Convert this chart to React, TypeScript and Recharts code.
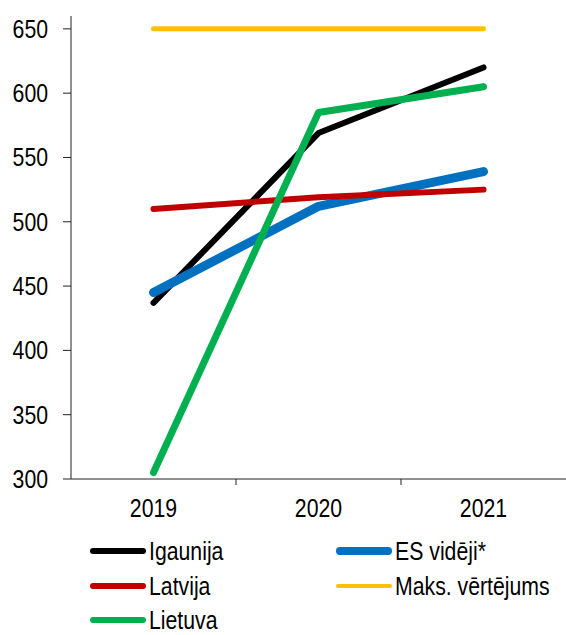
import React from 'react';
import { LineChart, Line, XAxis, YAxis } from 'recharts';

const years = ['2019', '2020', '2021'];
const igaunija = [437, 569, 620];
const esVideji = [445, 512, 539];
const latvija = [510, 519, 525];
const maks = [650, 650, 650];
const lietuva = [305, 585, 605];
const yTicks = [300, 350, 400, 450, 500, 550, 600, 650];

const FONT = '"Liberation Sans", Arial, sans-serif';
const SQUEEZE = 0.85;

const series = [
  { key: 'igaunija', name: 'Igaunija', color: '#000000', width: 6, legendWidth: 6 },
  { key: 'es', name: 'ES vidēji*', color: '#0070C0', width: 9, legendWidth: 8 },
  { key: 'latvija', name: 'Latvija', color: '#C00000', width: 6, legendWidth: 6 },
  { key: 'maks', name: 'Maks. vērtējums', color: '#FFC000', width: 5, legendWidth: 4 },
  { key: 'lietuva', name: 'Lietuva', color: '#00B050', width: 7, legendWidth: 6 },
];

const data = years.map((y, i) => ({
  x: i + 0.5,
  year: y,
  igaunija: igaunija[i],
  es: esVideji[i],
  latvija: latvija[i],
  maks: maks[i],
  lietuva: lietuva[i],
}));

const xTicks: number[] = [];
for (let i = 0; i < years.length; i++) {
  xTicks.push(i + 0.5);
  if (i < years.length - 1) xTicks.push(i + 1);
}

const X_TICK_SIZE = 6;
const X_TICK_MARGIN = 14;

const XTick = (props: any) => {
  const { x, y, payload } = props;
  const v = payload.value as number;
  if (Number.isInteger(v)) {
    const top = y - X_TICK_SIZE - X_TICK_MARGIN;
    return <line x1={x} x2={x} y1={top} y2={top + X_TICK_SIZE} stroke="#222" strokeWidth={1} />;
  }
  return (
    <g transform={`translate(${x},${y}) scale(${SQUEEZE},1)`}>
      <text x={0} y={0} dy="0.71em" textAnchor="middle" fill="#000" fontSize={25} fontFamily={FONT}>
        {years[Math.floor(v)]}
      </text>
    </g>
  );
};

const YTick = (props: any) => {
  const { x, y, payload } = props;
  return (
    <g transform={`translate(${x},${y}) scale(${SQUEEZE},1)`}>
      <text x={0} y={0} dy="0.355em" textAnchor="end" fill="#000" fontSize={25} fontFamily={FONT}>
        {payload.value}
      </text>
    </g>
  );
};

export default function App() {
  return (
    <div style={{ position: 'absolute', left: 0, top: 0, width: 566, height: 635, background: '#fff' }}>
      <LineChart width={566} height={535} data={data} margin={{ top: 16, right: 0, bottom: 0, left: 0 }}>
        <XAxis
          dataKey="x"
          type="number"
          domain={[0, years.length]}
          ticks={xTicks}
          interval={0}
          tick={<XTick />}
          tickLine={false}
          tickSize={X_TICK_SIZE}
          tickMargin={X_TICK_MARGIN}
          height={56}
          axisLine={{ stroke: '#222', strokeWidth: 1 }}
        />
        <YAxis
          type="number"
          domain={[300, 660]}
          ticks={yTicks}
          interval={0}
          width={71}
          tickSize={8}
          tickMargin={15}
          tick={<YTick />}
          tickLine={{ stroke: '#222', strokeWidth: 1 }}
          axisLine={{ stroke: '#222', strokeWidth: 1 }}
          allowDataOverflow
        />
        {series.map((s) => (
          <Line
            key={s.key}
            dataKey={s.key}
            name={s.name}
            stroke={s.color}
            strokeWidth={s.width}
            strokeLinecap="round"
            strokeLinejoin="round"
            dot={false}
            activeDot={false}
            type="linear"
            isAnimationActive={false}
          />
        ))}
      </LineChart>
      <div
        style={{
          position: 'absolute',
          left: 89,
          top: 534,
          display: 'grid',
          gridTemplateColumns: '246px 230px',
          gridAutoRows: '34.5px',
          fontFamily: FONT,
          fontSize: 25,
          color: '#000',
        }}
      >
        {series.map((s) => (
          <div key={s.key} style={{ display: 'flex', alignItems: 'center', height: 34.5, whiteSpace: 'nowrap' }}>
            <svg width={60} height={12} style={{ display: 'block', flex: 'none' }}>
              <line
                x1={s.legendWidth / 2 + 1}
                x2={57 - s.legendWidth / 2}
                y1={6}
                y2={6}
                stroke={s.color}
                strokeWidth={s.legendWidth}
                strokeLinecap="round"
              />
            </svg>
            <span
              style={{
                display: 'inline-block',
                lineHeight: '22px',
                transform: `scaleX(${SQUEEZE})`,
                transformOrigin: 'left center',
              }}
            >
              {s.name}
            </span>
          </div>
        ))}
      </div>
    </div>
  );
}
